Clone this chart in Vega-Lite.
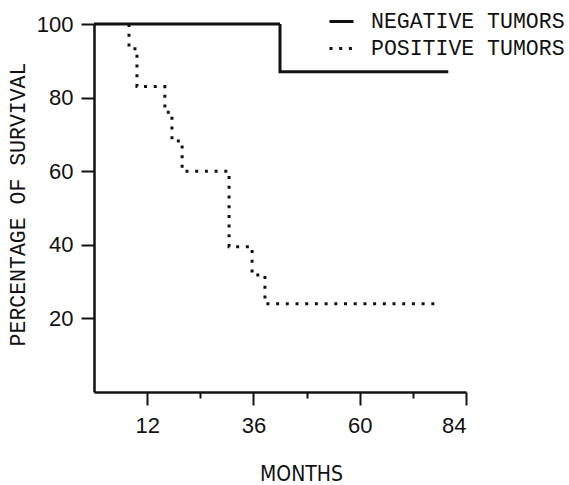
{
  "$schema": "https://vega.github.io/schema/vega-lite/v6.json",
  "autosize": "none",
  "width": 372,
  "height": 368,
  "padding": {"left": 94, "top": 24, "right": 103, "bottom": 93},
  "background": "white",
  "config": {"view": {"stroke": null}},
  "data": {"values": [
    {"series": "NEGATIVE TUMORS", "i": 0, "month": 0, "pct": 100},
    {"series": "NEGATIVE TUMORS", "i": 1, "month": 42, "pct": 87},
    {"series": "NEGATIVE TUMORS", "i": 2, "month": 80, "pct": 87},
    {"series": "POSITIVE TUMORS", "i": 0, "month": 7.9, "pct": 100},
    {"series": "POSITIVE TUMORS", "i": 1, "month": 7.9, "pct": 93.3},
    {"series": "POSITIVE TUMORS", "i": 2, "month": 9.7, "pct": 83},
    {"series": "POSITIVE TUMORS", "i": 3, "month": 16, "pct": 76},
    {"series": "POSITIVE TUMORS", "i": 4, "month": 17.6, "pct": 68.2},
    {"series": "POSITIVE TUMORS", "i": 5, "month": 19.9, "pct": 60},
    {"series": "POSITIVE TUMORS", "i": 6, "month": 30.5, "pct": 39.5},
    {"series": "POSITIVE TUMORS", "i": 7, "month": 35.7, "pct": 31.8},
    {"series": "POSITIVE TUMORS", "i": 8, "month": 38.6, "pct": 24},
    {"series": "POSITIVE TUMORS", "i": 9, "month": 78, "pct": 24}
  ]},
  "mark": {"type": "line", "interpolate": "step-after", "strokeWidth": 3, "color": "#111"},
  "encoding": {
    "x": {
      "field": "month", "type": "quantitative",
      "scale": {"domain": [0, 84], "nice": false, "zero": false},
      "axis": {
        "values": [12, 24, 36, 48, 60, 72, 84],
        "labelExpr": "datum.value % 24 === 12 ? datum.label : ''",
        "tickSize": {"condition": {"test": "datum.value % 24 === 12", "value": 13}, "value": 6},
        "tickWidth": 2, "tickColor": "#111",
        "domainWidth": 2.5, "domainColor": "#111",
        "grid": false,
        "labelFont": "Liberation Sans", "labelFontSize": 22, "labelColor": "#111",
        "labelPadding": 10, "labelBaseline": "top",
        "title": "MONTHS",
        "titleFont": "DejaVu Sans Condensed, Liberation Sans", "titleFontSize": 21, "titleFontWeight": "normal", "titleColor": "#111",
        "titleX": 207, "titleY": 88, "titleBaseline": "alphabetic", "titleAlign": "center"
      }
    },
    "y": {
      "field": "pct", "type": "quantitative",
      "scale": {"domain": [0, 100], "nice": false},
      "axis": {
        "values": [20, 40, 60, 80, 100],
        "tickSize": 13, "tickWidth": 2, "tickColor": "#111",
        "domainWidth": 2.5, "domainColor": "#111",
        "grid": false,
        "labelFont": "Liberation Sans", "labelFontSize": 22, "labelColor": "#111",
        "labelPadding": 8,
        "title": "PERCENTAGE OF SURVIVAL",
        "titleFont": "Liberation Mono", "titleFontSize": 21.5, "titleFontWeight": "normal", "titleColor": "#111",
        "titleX": -76, "titleY": 180, "titleBaseline": "middle", "titleAlign": "center", "titleAngle": -90
      }
    },
    "strokeDash": {
      "field": "series", "type": "nominal",
      "scale": {"domain": ["NEGATIVE TUMORS", "POSITIVE TUMORS"], "range": [[1, 0], [3, 6.7]]},
      "legend": {
        "orient": "none", "legendX": 234, "legendY": -16,
        "title": null, "padding": 0,
        "symbolType": "stroke", "symbolSize": 576, "symbolStrokeWidth": 3, "symbolStrokeColor": "#111",
        "labelFont": "Liberation Mono", "labelFontSize": 21.5, "labelColor": "#111",
        "labelOffset": 16, "labelLimit": 300, "rowPadding": 3
      }
    },
    "order": {"field": "i", "type": "quantitative"}
  }
}
